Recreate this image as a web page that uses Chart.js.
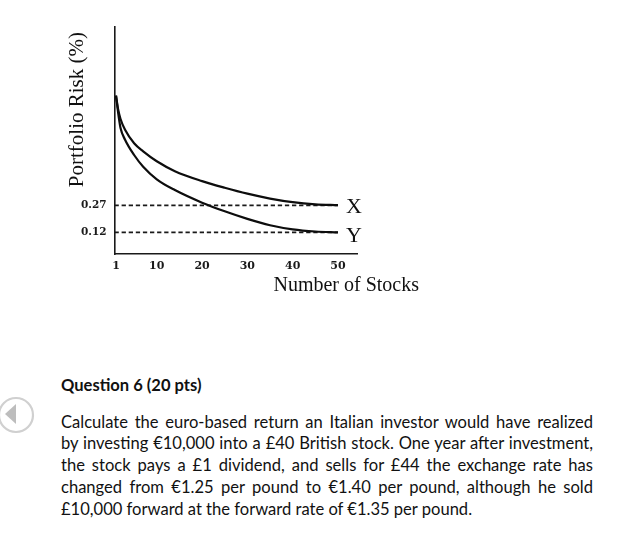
<!DOCTYPE html>
<html>
<head>
<meta charset="utf-8">
<script src="https://cdn.jsdelivr.net/npm/chart.js@4.4.1/dist/chart.umd.min.js"></script>
<style>
  html, body { margin:0; padding:0; background:#fff; width:621px; height:538px; overflow:hidden; }
  #chartBox { position:absolute; left:0; top:0; width:621px; height:300px; }
  .q { position:absolute; left:61px; font-family: Lato, "Open Sans", sans-serif; color:#111; }
  #qtitle { top:374px; font-weight:bold; white-space:nowrap; line-height:22px; }
  #qbody { top:411.5px; width:532px; line-height:21.8px; }
  #qbody div { white-space:nowrap; text-align:justify; text-align-last:justify; }
  #qbody div.last { text-align-last:left; }
  #icon { position:absolute; left:0; top:395px; }
</style>
</head>
<body>
<div id="chartBox"><canvas id="c" width="621" height="300"></canvas></div>
<svg id="icon" width="40" height="42" viewBox="0 0 40 42">
  <circle cx="16" cy="20" r="17" fill="none" stroke="#d0d0d0" stroke-width="2.2"/>
  <polygon points="5,19 16,9 16,29" fill="#bdbdbd"/>
</svg>
<div class="q" id="qtitle">Question 6 (20 pts)</div>
<div class="q" id="qbody"></div>
<script>
// ---- data ----
const stockCounts = [1, 1.5, 2, 3, 5, 7, 10, 14, 20, 25, 30, 35, 40, 45, 50];
const riskX = [0.88, 0.80, 0.75, 0.69, 0.615, 0.57, 0.515, 0.46, 0.405, 0.368, 0.335, 0.308, 0.288, 0.276, 0.271];
const riskY = [0.88, 0.78, 0.70, 0.635, 0.55, 0.485, 0.415, 0.355, 0.285, 0.237, 0.195, 0.16, 0.137, 0.125, 0.12];
const seriesNames = ['X', 'Y'];
const limitLevels = [0.27, 0.12];
const xTickValues = [1, 10, 20, 30, 40, 50];
const yTickValues = [0.12, 0.27];
const xTitle = 'Number of Stocks';
const yTitle = 'Portfolio Risk (%)';

const questionTitle = 'Question 6 (20 pts)';
const questionLines = [
  'Calculate the euro-based return an Italian investor would have realized',
  'by investing €10,000 into a £40 British stock. One year after investment,',
  'the stock pays a £1 dividend, and sells for £44 the exchange rate has',
  'changed from €1.25 per pound to €1.40 per pound, although he sold',
  '£10,000 forward at the forward rate of €1.35 per pound.'
];

// ---- question text ----
document.getElementById('qtitle').textContent = questionTitle;
const body = document.getElementById('qbody');
questionLines.forEach((t, i) => {
  const d = document.createElement('div');
  d.textContent = t;
  if (i === questionLines.length - 1) d.className = 'last';
  body.appendChild(d);
});
(function fitText(){
  const m = document.createElement('canvas').getContext('2d');
  m.font = '16px Lato';
  let maxW = 0;
  questionLines.slice(0, -1).forEach(t => { maxW = Math.max(maxW, m.measureText(t).width); });
  const fs = Math.min(17, 16 * 527 / maxW);
  body.style.fontSize = fs + 'px';
  document.getElementById('qtitle').style.fontSize = fs + 'px';
})();

// ---- chart ----
const X_MIN = 0.67, X_MAX = 54.2, Y_MIN = 0, Y_MAX = 1.261;

const curveData = [riskX, riskY].map(arr => arr.map((v, i) => ({ x: stockCounts[i], y: v })));
const lastCount = stockCounts[stockCounts.length - 1];

const datasets = [];
limitLevels.forEach(lv => {
  datasets.push({
    data: [{ x: X_MIN, y: lv }, { x: lastCount, y: lv }],
    borderColor: '#1a1a1a', borderWidth: 1.6, borderDash: [4.3, 2.8],
    pointRadius: 0, tension: 0, order: 2
  });
});
curveData.forEach((d, i) => {
  datasets.push({
    label: seriesNames[i], data: d,
    borderColor: '#0d0d0d', borderWidth: 2.2,
    pointRadius: 0, cubicInterpolationMode: 'monotone', order: 1
  });
});

const decor = {
  id: 'decor',
  afterDraw(chart) {
    const ctx = chart.ctx, xs = chart.scales.x, ys = chart.scales.y;
    ctx.save();
    ctx.fillStyle = '#111';
    ctx.font = '22px "Liberation Serif", serif';
    ctx.textAlign = 'left';
    ctx.textBaseline = 'alphabetic';
    const offs = [8, 10];
    seriesNames.forEach((n, i) => {
      ctx.fillText(n, xs.getPixelForValue(lastCount) + 8, ys.getPixelForValue(limitLevels[i]) + offs[i]);
    });
    ctx.font = '20px "Liberation Serif", serif';
    ctx.textAlign = 'right';
    ctx.fillText(xTitle, 419, 291);
    ctx.translate(83, 32);
    ctx.rotate(-Math.PI / 2);
    ctx.font = '21px "Liberation Serif", serif';
    ctx.textAlign = 'right';
    ctx.fillText(yTitle, 0, 0);
    ctx.restore();
  }
};

new Chart(document.getElementById('c'), {
  type: 'line',
  data: { datasets },
  options: {
    responsive: false,
    animation: false,
    events: [],
    layout: { padding: { left: 0, top: 27, right: 264, bottom: 0 } },
    plugins: { legend: { display: false }, tooltip: { enabled: false } },
    scales: {
      x: {
        type: 'linear', min: X_MIN, max: X_MAX,
        afterFit(s) { s.height = 46; },
        afterBuildTicks(s) { s.ticks = xTickValues.map(v => ({ value: v })); },
        grid: { display: false, drawTicks: false },
        border: { display: true, color: '#1a1a1a', width: 1.6 },
        ticks: {
          padding: 6, color: '#1a1a1a', maxRotation: 0, autoSkip: false,
          font: { family: '"DejaVu Serif", serif', size: 11, weight: 'bold' },
          callback: v => String(v)
        }
      },
      y: {
        type: 'linear', min: Y_MIN, max: Y_MAX,
        afterFit(s) { s.width = 114.5; },
        afterBuildTicks(s) { s.ticks = yTickValues.map(v => ({ value: v })); },
        grid: { display: false, drawTicks: false },
        border: { display: true, color: '#1a1a1a', width: 1.6 },
        ticks: {
          padding: 8, color: '#1a1a1a', autoSkip: false,
          font: { family: '"DejaVu Serif", serif', size: 10.5, weight: 'bold' },
          callback: v => v.toFixed(2)
        }
      }
    }
  },
  plugins: [decor]
});
</script>
</body>
</html>
